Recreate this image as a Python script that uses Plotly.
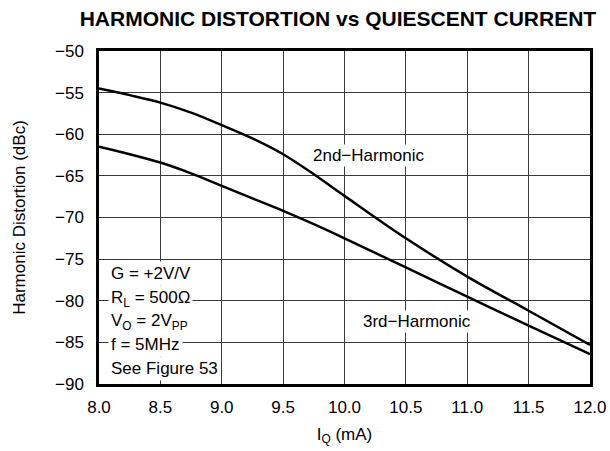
import plotly.graph_objs as go

# Data
IQ_MA = [8.0, 8.25, 8.5, 8.75, 9.0, 9.25, 9.5, 9.75, 10.0, 10.5, 11.0, 11.5, 12.0]
HD2_DBC = [-54.5, -55.3, -56.2, -57.4, -58.9, -60.5, -62.4, -64.8, -67.4, -72.5, -77.1, -81.2, -85.3]
HD3_DBC = [-61.5, -62.4, -63.4, -64.7, -66.2, -67.7, -69.2, -70.8, -72.5, -76.0, -79.5, -83.0, -86.4]
X_TICKS = [8.0, 8.5, 9.0, 9.5, 10.0, 10.5, 11.0, 11.5, 12.0]
Y_TICKS = [-50, -55, -60, -65, -70, -75, -80, -85, -90]

COND_TEXT = ["G = +2V/V", "R<sub>L</sub> = 500\u03a9", "V<sub>O</sub> = 2V<sub>PP</sub>",
             "f = 5MHz", "See Figure 53"]
COND_Y = [-76.7, -79.8, -82.5, -85.2, -88.1]

FONT = "Arial, Liberation Sans, sans-serif"
FS = 17

fig = go.Figure()
fig.add_trace(go.Scatter(x=IQ_MA, y=HD2_DBC, mode="lines", line_shape="spline",
                         line=dict(color="black", width=2.5), name="2nd-Harmonic"))
fig.add_trace(go.Scatter(x=IQ_MA, y=HD3_DBC, mode="lines", line_shape="spline",
                         line=dict(color="black", width=2.5), name="3rd-Harmonic"))

fig.add_annotation(x=10.2, y=-62.5, text="2nd\u2212Harmonic", showarrow=False,
                   font=dict(size=FS, color="black"), bgcolor="white")
fig.add_annotation(x=10.59, y=-82.5, text="3rd\u2212Harmonic", showarrow=False,
                   font=dict(size=FS, color="black"), bgcolor="white")
# test conditions, one white-backed line each
for txt, yy in zip(COND_TEXT, COND_Y):
    fig.add_annotation(x=8.07, y=yy, xanchor="left", yanchor="middle", align="left",
                       text=txt, showarrow=False, font=dict(size=FS, color="black"),
                       bgcolor="white", borderpad=2)

fig.update_xaxes(range=[8.0, 12.0], tickvals=X_TICKS, tickformat=".1f",
                 showgrid=True, gridcolor="#3a3a3a", gridwidth=1,
                 showline=True, linecolor="black", linewidth=2.5, mirror=True,
                 ticks="", zeroline=False, automargin=False, ticklabelstandoff=6,
                 title=dict(text="I<sub>Q</sub> (mA)", font=dict(size=FS), standoff=12),
                 tickfont=dict(size=FS))
fig.update_yaxes(range=[-90, -50], tickvals=Y_TICKS,
                 showgrid=True, gridcolor="#3a3a3a", gridwidth=1,
                 showline=True, linecolor="black", linewidth=2.5, mirror=True,
                 ticks="", zeroline=False, automargin=False, ticklabelstandoff=9,
                 title=dict(text="Harmonic Distortion (dBc)", font=dict(size=FS), standoff=26),
                 tickfont=dict(size=FS))
fig.update_layout(title=dict(text="<b>HARMONIC DISTORTION vs QUIESCENT CURRENT</b>",
                             x=0.554, xanchor="center", y=0.958, yanchor="middle",
                             font=dict(size=21, color="black")),
                  font=dict(family=FONT, color="black"),
                  width=610, height=451, showlegend=False,
                  plot_bgcolor="white", paper_bgcolor="white",
                  margin=dict(l=99, r=20, t=51, b=67))

# drop the default 8px body margin so the figure sits at the page origin
fig.write_html("out.html", config={"displayModeBar": False},
               post_script="document.body.style.margin='0';")
